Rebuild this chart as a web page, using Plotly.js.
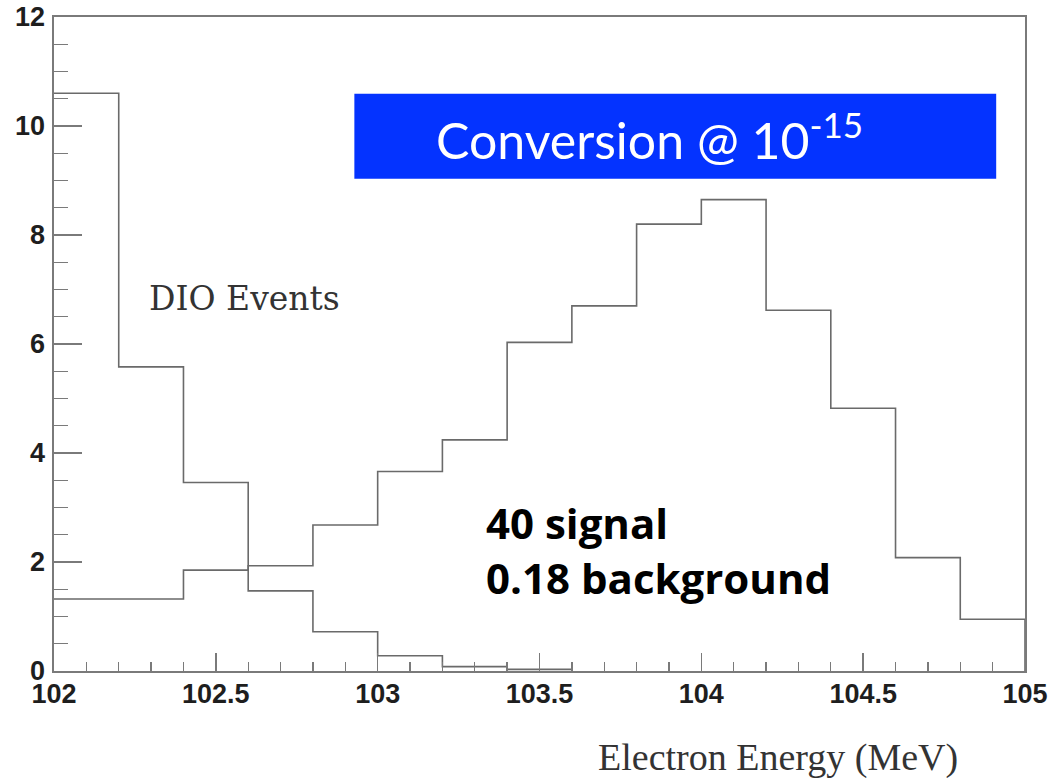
<!DOCTYPE html>
<html>
<head>
<meta charset="utf-8">
<script src="https://cdn.plot.ly/plotly-3.0.1.min.js"></script>
<style>
html,body{margin:0;padding:0;background:#fff;}
#chart{width:1057px;height:778px;}
</style>
</head>
<body>
<div id="chart"></div>
<script>
// Bin lower edges (MeV), bin width 0.2
const binStart = [102.0, 102.2, 102.4, 102.6, 102.8, 103.0, 103.2, 103.4, 103.6, 103.8, 104.0, 104.2, 104.4, 104.6, 104.8];
const binWidth = 0.2;
// DIO background events per bin (only non-empty up to 103.6)
const dioValues = [10.6, 5.58, 3.46, 1.47, 0.72, 0.28, 0.08, 0.03];
// Conversion signal events per bin
const signalValues = [1.32, 1.32, 1.85, 1.93, 2.68, 3.66, 4.24, 6.03, 6.70, 8.2, 8.65, 6.62, 4.82, 2.08, 0.95];

function stepXY(values) {
  const xs = [], ys = [];
  for (let i = 0; i < values.length; i++) { xs.push(binStart[i]); ys.push(values[i]); }
  const end = binStart[values.length - 1] + binWidth;
  xs.push(end); ys.push(values[values.length - 1]);
  xs.push(end); ys.push(0);
  return {x: xs, y: ys};
}

const dio = stepXY(dioValues);
const sig = stepXY(signalValues);
const lineStyle = {color: '#6a6a6a', width: 1.6, shape: 'hv'};

const traces = [
  {x: sig.x, y: sig.y, mode: 'lines', line: lineStyle, name: 'Conversion', hoverinfo: 'skip'},
  {x: dio.x, y: dio.y, mode: 'lines', line: lineStyle, name: 'DIO', hoverinfo: 'skip'}
];

const axisLine = '#7a7a7a';
const tickFont = {family: 'Liberation Sans, Arial, sans-serif', size: 27, color: '#1e1e1e', weight: 'bold'};

const layout = {
  width: 1057, height: 778,
  margin: {l: 54, r: 32, t: 17, b: 107},
  paper_bgcolor: '#fff', plot_bgcolor: '#fff',
  showlegend: false,
  xaxis: {
    range: [102, 105], showgrid: false, zeroline: false,
    showline: true, linecolor: axisLine, linewidth: 1.6, mirror: true,
    ticks: 'inside', ticklen: 18, tickwidth: 1.4, tickcolor: axisLine,
    dtick: 0.5, tick0: 102, tickfont: tickFont,
    minor: {dtick: 0.1, ticks: 'inside', ticklen: 9, tickwidth: 1.4, tickcolor: axisLine},
    ticklabelstandoff: -2
  },
  yaxis: {
    range: [0, 12], showgrid: false, zeroline: false,
    showline: true, linecolor: axisLine, linewidth: 1.6, mirror: true,
    ticks: 'inside', ticklen: 28, tickwidth: 1.4, tickcolor: axisLine,
    dtick: 2, tick0: 0, tickfont: tickFont,
    minor: {dtick: 0.5, ticks: 'inside', ticklen: 14, tickwidth: 1.4, tickcolor: axisLine},
    ticklabelstandoff: 2
  },
  shapes: [
    {type: 'rect', xref: 'x', yref: 'y', x0: 102.928, x1: 104.911, y0: 9.03, y1: 10.59,
     fillcolor: '#0433ff', line: {width: 0}, layer: 'above'}
  ],
  annotations: [
    {xref: 'x', yref: 'y', x: 103.84, y: 9.8, text: 'Conversion @ 10<sup>-15</sup>',
     showarrow: false, font: {family: 'Lato, Open Sans, sans-serif', size: 50, color: '#ffffff'}},
    {xref: 'x', yref: 'y', x: 102.588, y: 6.84, text: 'DIO Events', showarrow: false,
     font: {family: 'DejaVu Serif, serif', size: 33, color: '#333'}},
    {xref: 'x', yref: 'y', x: 103.33, y: 2.22, xanchor: 'left', align: 'left',
     text: '40 signal<br>0.18 background', showarrow: false,
     font: {family: 'Open Sans, sans-serif', size: 42, color: '#000', weight: 'bold'}},
    {xref: 'paper', yref: 'paper', x: 0.933, y: -0.133, xanchor: 'right', yanchor: 'middle',
     text: 'Electron Energy (MeV)', showarrow: false,
     font: {family: 'Liberation Serif, serif', size: 38, color: '#333'}}
  ]
};

Plotly.newPlot('chart', traces, layout, {displayModeBar: false, staticPlot: true});
</script>
</body>
</html>
